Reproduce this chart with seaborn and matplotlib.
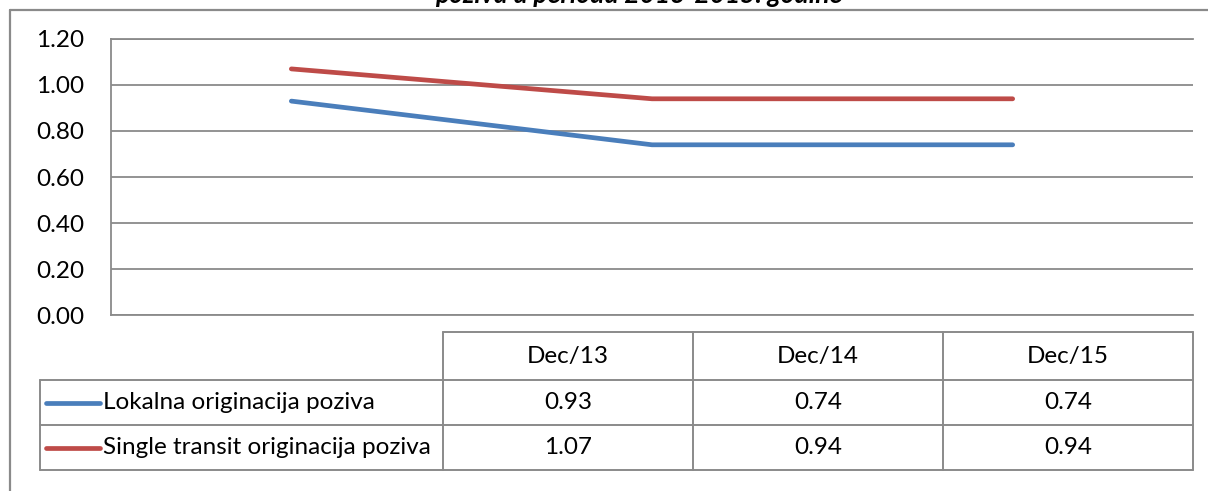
import numpy as np
import pandas as pd
import matplotlib
matplotlib.use("Agg")
import matplotlib.pyplot as plt
import seaborn as sns

# ---- data ----
categories = ["Dec/13", "Dec/14", "Dec/15"]
series_names = ["Lokalna originacija poziva", "Single transit originacija poziva"]
lokalna = [0.93, 0.74, 0.74]
single_transit = [1.07, 0.94, 0.94]
y_ticks = [0.0, 0.2, 0.4, 0.6, 0.8, 1.0, 1.2]
title_text = "poziva u periodu 2013-2015. godine"
colors = ["#4A7EBB", "#BE4B48"]

sns.set_theme(style="white")
plt.rcParams["font.family"] = ["Lato", "DejaVu Sans"]

W, H = 1208, 491
GRAY = "#8A8A8A"
FS = 17.5

fig = plt.figure(figsize=(W / 100, H / 100), dpi=100)
fig.patch.set_facecolor("white")


def fr(x0, y0, x1, y1):
    return [x0 / W, 1 - y1 / H, (x1 - x0) / W, (y1 - y0) / H]


ax = fig.add_axes(fr(111, 39, 1193, 315))
df = pd.DataFrame({
    "cat": categories * 2,
    "val": lokalna + single_transit,
    "series": [series_names[0]] * len(categories) + [series_names[1]] * len(categories),
})
sns.lineplot(data=df, x="cat", y="val", hue="series", palette=colors,
             linewidth=3.4, legend=False, ax=ax, sort=False,
             solid_capstyle="round", zorder=3)
ax.set_xlim(-0.5, len(categories) - 0.5)
ax.set_ylim(0, 1.2)
ax.set_yticks(y_ticks)
ax.set_yticklabels([f"{t:.2f}" for t in y_ticks])
ax.set_xticks([])
ax.set_xlabel("")
ax.set_ylabel("")
ax.yaxis.grid(True, color=GRAY, linewidth=1.3)
ax.set_axisbelow(True)
for s in ["left", "top", "bottom"]:
    ax.spines[s].set_visible(True)
    ax.spines[s].set_color(GRAY)
    ax.spines[s].set_linewidth(1.3)
ax.spines["right"].set_visible(False)
ax.tick_params(axis="y", length=0, pad=19, labelsize=FS, labelcolor="black")
ax.patch.set_alpha(0)

# ---- overlay for frame, title and data table ----
ov = fig.add_axes([0, 0, 1, 1])
ov.set_xlim(0, W)
ov.set_ylim(H, 0)
ov.axis("off")
ov.patch.set_alpha(0)

ov.plot([10, 10], [10, H], color=GRAY, lw=1.6)
ov.plot([10, W], [10, 10], color=GRAY, lw=1.6)
ov.text(639, 3, title_text, ha="center", va="baseline", fontsize=19,
        fontweight="bold", fontstyle="italic", color="black")

tbl_left, col_w = 443, 250
leg_left = 40
hdr_top, row_h_hdr, row_h = 332, 48, 45
tbl_right = tbl_left + col_w * len(categories)
row_tops = [hdr_top + row_h_hdr + i * row_h for i in range(len(series_names) + 1)]
tbl_bottom = row_tops[-1]
lkw = dict(color=GRAY, lw=1.4)
ov.plot([tbl_left, tbl_right], [hdr_top, hdr_top], **lkw)
for y in row_tops:
    ov.plot([leg_left, tbl_right], [y, y], **lkw)
ov.plot([leg_left, leg_left], [row_tops[0], tbl_bottom], **lkw)
for i in range(len(categories) + 1):
    x = tbl_left + i * col_w
    ov.plot([x, x], [hdr_top, tbl_bottom], **lkw)

for i, c in enumerate(categories):
    ov.text(tbl_left + (i + 0.5) * col_w, hdr_top + row_h_hdr / 2, c,
            ha="center", va="center", fontsize=FS, color="black")

for r, (name, vals, col) in enumerate(zip(series_names, [lokalna, single_transit], colors)):
    yc = row_tops[r] + row_h / 2
    ov.plot([leg_left + 6, leg_left + 60], [yc, yc], color=col, lw=3.4,
            solid_capstyle="round")
    ov.text(leg_left + 63, yc, name, ha="left", va="center", fontsize=FS, color="black")
    for i, v in enumerate(vals):
        ov.text(tbl_left + (i + 0.5) * col_w, yc, f"{v:.2f}", ha="center",
                va="center", fontsize=FS, color="black")

fig.savefig("out.png", dpi=100)
